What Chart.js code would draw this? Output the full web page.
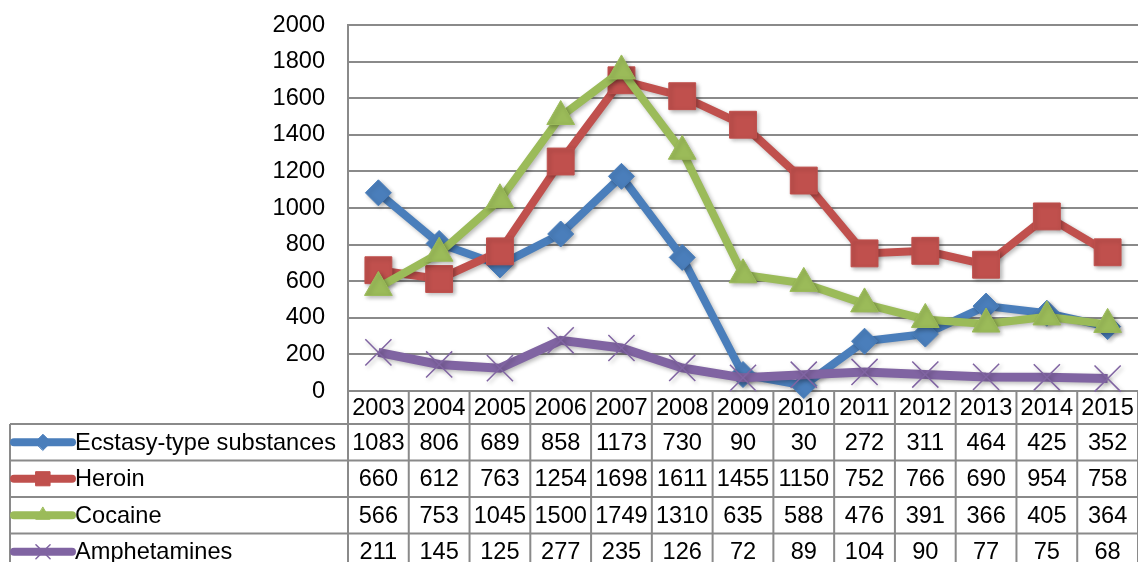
<!DOCTYPE html>
<html>
<head>
<meta charset="utf-8">
<script src="https://cdn.jsdelivr.net/npm/chart.js@4/dist/chart.umd.min.js"></script>
<style>
  html, body { margin: 0; padding: 0; background: #ffffff; }
  #wrap { width: 1138px; height: 562px; }
</style>
</head>
<body>
<div id="wrap"><canvas id="c" width="1138" height="562"></canvas></div>
<script>
// Seizures by substance, 2003-2015
const years = ['2003','2004','2005','2006','2007','2008','2009','2010','2011','2012','2013','2014','2015'];
const ecstasy = [1083, 806, 689, 858, 1173, 730, 90, 30, 272, 311, 464, 425, 352];
const heroin = [660, 612, 763, 1254, 1698, 1611, 1455, 1150, 752, 766, 690, 954, 758];
const cocaine = [566, 753, 1045, 1500, 1749, 1310, 635, 588, 476, 391, 366, 405, 364];
const amphetamines = [211, 145, 125, 277, 235, 126, 72, 89, 104, 90, 77, 75, 68];
const seriesNames = ['Ecstasy-type substances', 'Heroin', 'Cocaine', 'Amphetamines'];
const yTicks = [0, 200, 400, 600, 800, 1000, 1200, 1400, 1600, 1800, 2000];

const FONT = '"Liberation Sans", Arial, sans-serif';
const FONT_SIZE = 23.6;
const GRID = '#8a8a8a';

const styles = [
  { color: '#4a7ebb', point: 'rectRot', radius: 13, keyRadius: 8 },
  { color: '#c0504d', point: 'rect', radius: 19, keyRadius: 10 },
  { color: '#9bbb59', point: 'triangle', radius: 16, keyRadius: 8 },
  { color: '#8064a2', point: 'crossRot', radius: 18.5, keyRadius: 10 }
];
const seriesData = [ecstasy, heroin, cocaine, amphetamines];

// Soft drop shadow under the series lines
const shadowPlugin = {
  id: 'lineShadow',
  beforeDatasetsDraw(chart) {
    const ctx = chart.ctx;
    ctx.save();
    ctx.shadowColor = 'rgba(0,0,0,0.28)';
    ctx.shadowBlur = 4;
    ctx.shadowOffsetX = 2;
    ctx.shadowOffsetY = 2;
  },
  afterDatasetsDraw(chart) {
    chart.ctx.restore();
  }
};

function drawKey(ctx, style, x0, x1, y) {
  ctx.save();
  ctx.strokeStyle = style.color;
  ctx.fillStyle = style.color;
  ctx.lineWidth = 8;
  ctx.lineCap = 'round';
  ctx.beginPath();
  ctx.moveTo(x0, y);
  ctx.lineTo(x1, y);
  ctx.stroke();
  const cx = (x0 + x1) / 2;
  ctx.lineWidth = style.point === 'crossRot' ? 1.5 : 1;
  Chart.helpers.drawPoint(ctx, {
    pointStyle: style.point,
    radius: style.keyRadius,
    borderWidth: ctx.lineWidth,
    rotation: 0
  }, cx, y);
  ctx.restore();
}

// Data table under the plot, aligned with the category columns
const tablePlugin = {
  id: 'dataTable',
  afterDraw(chart) {
    const ctx = chart.ctx;
    const xs = chart.scales.x;
    const area = chart.chartArea;
    const n = years.length;
    const colW = (area.right - area.left) / n;
    const top = area.bottom;
    const headerBottom = top + 33;
    const rowH = 36.5;
    const tableLeft = 10;
    const bottom = chart.height;

    ctx.save();
    ctx.strokeStyle = GRID;
    ctx.lineWidth = 2;
    ctx.beginPath();
    for (let r = 0; r < seriesNames.length; r++) {
      const y = headerBottom + r * rowH;
      ctx.moveTo(tableLeft, y); ctx.lineTo(chart.width, y);
    }
    // left edge of the legend column
    ctx.moveTo(tableLeft, headerBottom); ctx.lineTo(tableLeft, bottom);
    // column separators
    for (let i = 0; i <= n; i++) {
      const x = area.left + i * colW;
      ctx.moveTo(x, top); ctx.lineTo(x, bottom);
    }
    ctx.stroke();

    ctx.fillStyle = '#000';
    ctx.font = FONT_SIZE + 'px ' + FONT;
    ctx.textBaseline = 'middle';
    ctx.textAlign = 'center';
    years.forEach((yr, i) => {
      ctx.fillText(yr, xs.getPixelForValue(i), (top + headerBottom) / 2 + 1);
    });
    seriesData.forEach((vals, r) => {
      const yc = headerBottom + r * rowH + rowH / 2 + 1;
      vals.forEach((v, i) => {
        ctx.fillText(String(v), xs.getPixelForValue(i), yc);
      });
    });
    seriesNames.forEach((name, r) => {
      const yc = headerBottom + r * rowH + rowH / 2;
      drawKey(ctx, styles[r], 14, 72, yc);
      ctx.fillStyle = '#000';
      ctx.textAlign = 'left';
      ctx.font = FONT_SIZE + 'px ' + FONT;
      ctx.fillText(name, 75, yc + 1);
    });
    ctx.restore();
  }
};

const datasets = seriesData.map((vals, i) => ({
  label: seriesNames[i],
  data: vals,
  borderColor: styles[i].color,
  backgroundColor: styles[i].color,
  borderWidth: i === 3 ? 9 : 8,
  pointStyle: styles[i].point,
  pointRadius: styles[i].radius,
  pointHoverRadius: styles[i].radius,
  pointBorderWidth: i === 3 ? 1.5 : 1,
  pointBorderColor: styles[i].color,
  pointBackgroundColor: styles[i].color,
  tension: 0,
  clip: false,
  order: 4 - i
}));

new Chart(document.getElementById('c'), {
  type: 'line',
  data: { labels: years, datasets },
  options: {
    responsive: false,
    animation: false,
    layout: { autoPadding: false, padding: { top: 25, right: 0, bottom: 171, left: 0 } },
    plugins: {
      legend: { display: false },
      tooltip: { enabled: false }
    },
    scales: {
      x: {
        display: false,
        offset: true
      },
      y: {
        min: 0,
        max: 2000,
        afterBuildTicks(scale) { scale.ticks = yTicks.map(v => ({ value: v })); },
        afterFit(scale) {
          scale.width = 348;
          scale.paddingTop = 0;
          scale.paddingBottom = 0;
        },
        ticks: {
          color: '#000',
          padding: 23,
          font: { family: FONT, size: FONT_SIZE },
          callback: v => String(v)
        },
        grid: {
          color: GRID,
          lineWidth: 2,
          drawTicks: false
        },
        border: { display: true, color: GRID, width: 2 }
      }
    }
  },
  plugins: [shadowPlugin, tablePlugin]
});
</script>
</body>
</html>
